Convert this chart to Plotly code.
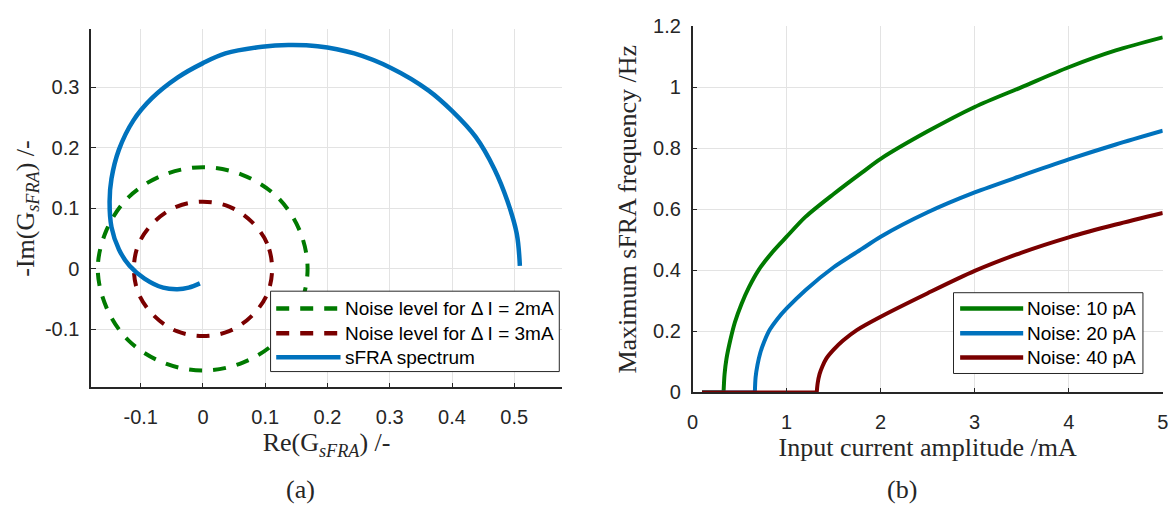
import plotly.graph_objects as go

W, H = 1173, 514

# ---------------- data: panel (a) ----------------
noise2_re = [0.168, 0.155, 0.119, 0.064, 0.0, -0.064, -0.119, -0.155, -0.169,
             -0.155, -0.119, -0.064, 0.0, 0.064, 0.119, 0.155, 0.168]
noise2_im = [0.0, 0.064, 0.119, 0.155, 0.168, 0.155, 0.119, 0.064, 0.0,
             -0.064, -0.119, -0.155, -0.168, -0.155, -0.119, -0.064, 0.0]
noise3_re = [0.111, 0.103, 0.078, 0.042, 0.0, -0.042, -0.078, -0.103, -0.111,
             -0.103, -0.078, -0.042, 0.0, 0.042, 0.078, 0.103, 0.111]
noise3_im = [0.0, 0.042, 0.078, 0.103, 0.111, 0.103, 0.078, 0.042, 0.0,
             -0.042, -0.078, -0.103, -0.111, -0.103, -0.078, -0.042, 0.0]
sfra_re = [0.509, 0.504, 0.489, 0.468, 0.438, 0.400, 0.362, 0.302, 0.243, 0.184,
           0.137, 0.095, 0.036, 0.0, -0.041, -0.082, -0.112, -0.135, -0.147,
           -0.150, -0.147, -0.135, -0.118, -0.094, -0.064, -0.041, -0.023, -0.005]
sfra_im = [0.005, 0.058, 0.112, 0.165, 0.218, 0.261, 0.295, 0.332, 0.356, 0.368,
           0.370, 0.367, 0.356, 0.340, 0.316, 0.282, 0.245, 0.197, 0.149,
           0.112, 0.069, 0.032, 0.005, -0.016, -0.031, -0.0335, -0.031, -0.024]

# ---------------- data: panel (b) ----------------
amp_10 = [0.1, 0.329, 0.34, 0.36, 0.40, 0.45, 0.52, 0.60, 0.70, 0.85, 1.0, 1.2, 1.5,
          1.8, 2.0, 2.5, 3.0, 3.5, 4.0, 4.5, 5.0]
freq_10 = [0.0, 0.0, 0.06, 0.11, 0.17, 0.23, 0.29, 0.345, 0.40, 0.46, 0.51, 0.575, 0.65,
           0.72, 0.765, 0.855, 0.935, 1.0, 1.065, 1.12, 1.163]
amp_20 = [0.1, 0.662, 0.67, 0.69, 0.72, 0.76, 0.82, 0.9, 1.0, 1.2, 1.5, 1.8, 2.0, 2.5,
          3.0, 3.5, 4.0, 4.5, 5.0]
freq_20 = [0.0, 0.0, 0.05, 0.09, 0.13, 0.165, 0.205, 0.24, 0.275, 0.335, 0.41, 0.47,
           0.51, 0.59, 0.655, 0.71, 0.763, 0.812, 0.857]
amp_40 = [0.1, 1.32, 1.33, 1.35, 1.38, 1.42, 1.5, 1.6, 1.75, 2.0, 2.5, 3.0, 3.5, 4.0,
          4.5, 5.0]
freq_40 = [0.0, 0.0, 0.03, 0.06, 0.085, 0.11, 0.14, 0.17, 0.205, 0.248, 0.325, 0.398,
           0.458, 0.508, 0.55, 0.588]

left_legend = ["Noise level for \u0394 I = 2mA", "Noise level for \u0394 I = 3mA", "sFRA spectrum"]
right_legend = ["Noise: 10 pA", "Noise: 20 pA", "Noise: 40 pA"]

GREEN = "#007a00"
BLUE = "#0072bd"
RED = "#7a0000"
AX = "#262626"
GRID = "#e3e3e3"
DASH = "13px,11px"
LW = 4


def px_x(p):
    return p / W


def px_y(p):
    return 1 - p / H


fig = go.Figure()

fig.add_trace(go.Scatter(x=noise2_re, y=noise2_im, mode="lines", name=left_legend[0],
                         line=dict(color=GREEN, width=LW, dash=DASH, shape="spline"),
                         xaxis="x", yaxis="y", showlegend=False))
fig.add_trace(go.Scatter(x=noise3_re, y=noise3_im, mode="lines", name=left_legend[1],
                         line=dict(color=RED, width=LW, dash=DASH, shape="spline"),
                         xaxis="x", yaxis="y", showlegend=False))
fig.add_trace(go.Scatter(x=sfra_re, y=sfra_im, mode="lines", name=left_legend[2],
                         line=dict(color=BLUE, width=LW + 0.5, shape="spline"),
                         xaxis="x", yaxis="y", showlegend=False))

for xs, ys, c, nm in [(amp_10, freq_10, GREEN, right_legend[0]),
                      (amp_20, freq_20, BLUE, right_legend[1]),
                      (amp_40, freq_40, RED, right_legend[2])]:
    # flat (zero) part, then the rising part
    fig.add_trace(go.Scatter(x=xs[:2], y=ys[:2], mode="lines", name=nm,
                             line=dict(color=c, width=LW), cliponaxis=False,
                             xaxis="x2", yaxis="y2", showlegend=False))
    fig.add_trace(go.Scatter(x=xs[1:], y=ys[1:], mode="lines", name=nm,
                             line=dict(color=c, width=LW, shape="spline", smoothing=0.8),
                             cliponaxis=False,
                             xaxis="x2", yaxis="y2", showlegend=False))

tickfont = dict(family="Liberation Sans, Arial", size=20, color=AX)
titlefont = dict(family="Liberation Serif, Times New Roman", size=26, color=AX)

common = dict(showgrid=True, gridcolor=GRID, gridwidth=1, zeroline=False,
              showline=True, linecolor=AX, linewidth=1.5, mirror=False,
              ticks="inside", ticklen=5, tickcolor=AX, tickwidth=1.3,
              tickfont=tickfont, ticklabeloverflow="allow")

l_x = [-0.1, 0, 0.1, 0.2, 0.3, 0.4, 0.5]
l_y = [-0.1, 0, 0.1, 0.2, 0.3]
r_x = [0, 1, 2, 3, 4, 5]
r_y = [0, 0.2, 0.4, 0.6, 0.8, 1, 1.2]


def lab(v):
    return "%g" % v


fig.update_layout(
    width=W, height=H,
    margin=dict(l=0, r=0, t=0, b=0),
    paper_bgcolor="white", plot_bgcolor="white",
    xaxis=dict(domain=[px_x(86), px_x(561.7)], range=[-0.1797, 0.5766],
               tickvals=l_x, ticktext=[lab(v) for v in l_x], anchor="y",
               ticklabelstandoff=11,
               title=dict(text="Re(G<sub><i>sFRA</i></sub>) /-", font=titlefont, standoff=6),
               **common),
    yaxis=dict(domain=[px_y(393.3), px_y(19.3)], range=[-0.196, 0.3956],
               tickvals=l_y, ticktext=[lab(v) for v in l_y], anchor="x",
               ticklabelstandoff=6,
               title=dict(text="-Im(G<sub><i>sFRA</i></sub>) /-", font=titlefont, standoff=3),
               **common),
    xaxis2=dict(domain=[px_x(693.7), px_x(1168.7)], range=[0, 5],
                tickvals=r_x, ticktext=[lab(v) for v in r_x], anchor="y2",
                ticklabelstandoff=11,
                title=dict(text="Input current amplitude /mA", font=titlefont, standoff=6),
                **common),
    yaxis2=dict(domain=[px_y(398.5), px_y(15.7)], range=[0, 1.2],
                tickvals=r_y, ticktext=[lab(v) for v in r_y], anchor="x2",
                ticklabelstandoff=6,
                title=dict(text="Maximum sFRA frequency /Hz", font=titlefont, standoff=9),
                **common),
    showlegend=False,
)

shapes = []
annotations = []

# legend (a)
shapes.append(dict(type="rect", xref="paper", yref="paper",
                   x0=px_x(267.3), x1=px_x(559), y0=px_y(376.7), y1=px_y(292.7),
                   fillcolor="white", line=dict(color=AX, width=1), layer="above"))
rows_a = [310.7, 336.7, 361.7]
styles_a = [(GREEN, DASH), (RED, DASH), (BLUE, "solid")]
for (c, d), ry, t in zip(styles_a, rows_a, left_legend):
    shapes.append(dict(type="line", xref="paper", yref="paper",
                       x0=px_x(273), x1=px_x(338), y0=px_y(ry), y1=px_y(ry),
                       line=dict(color=c, width=LW + 0.5, dash=d), layer="above"))
    annotations.append(dict(text=t, xref="paper", yref="paper", x=px_x(340), y=px_y(ry),
                            xanchor="left", yanchor="middle", showarrow=False,
                            font=dict(family="Liberation Sans, Arial", size=19, color="#000000")))

# legend (b)
shapes.append(dict(type="rect", xref="paper", yref="paper",
                   x0=px_x(957.3), x1=px_x(1148.7), y0=px_y(378.7), y1=px_y(294.3),
                   fillcolor="white", line=dict(color=AX, width=1), layer="above"))
rows_b = [310.7, 336.7, 362]
for c, ry, t in zip([GREEN, BLUE, RED], rows_b, right_legend):
    shapes.append(dict(type="line", xref="paper", yref="paper",
                       x0=px_x(964), x1=px_x(1027.7), y0=px_y(ry), y1=px_y(ry),
                       line=dict(color=c, width=LW + 0.5), layer="above"))
    annotations.append(dict(text=t, xref="paper", yref="paper", x=px_x(1030), y=px_y(ry),
                            xanchor="left", yanchor="middle", showarrow=False,
                            font=dict(family="Liberation Sans, Arial", size=19, color="#000000")))

# panel labels
for t, cx in [("(a)", 298), ("(b)", 905)]:
    annotations.append(dict(text=t, xref="paper", yref="paper", x=px_x(cx), y=px_y(500),
                            xanchor="center", yanchor="middle", showarrow=False,
                            font=dict(family="Liberation Serif, Times New Roman", size=26, color=AX)))

fig.update_layout(shapes=shapes, annotations=annotations)
fig.write_html("out.html")
